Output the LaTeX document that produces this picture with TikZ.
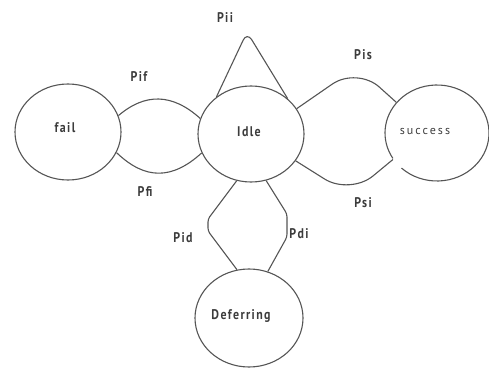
\documentclass[tikz,border=0pt]{standalone}
\usepackage{fontspec}
\setmainfont{PT Sans}
\newfontfamily\statefont{PT Sans}[FakeStretch=0.85,LetterSpace=10]
\newfontfamily\spacedfont{PT Sans}[LetterSpace=17]
\usetikzlibrary{shapes.geometric}
\definecolor{edgegray}{HTML}{555555}
\definecolor{textgray}{HTML}{3C3C3C}
\tikzset{
  state/.style={ellipse, inner sep=0pt, minimum width=106pt, minimum height=96pt,
    draw=edgegray, line width=1.1pt},
  statelabel/.style={text=textgray, font=\statefont\bfseries\fontsize{14}{14}\selectfont},
  prob/.style={statelabel},
  link/.style={draw=edgegray, line width=1.1pt},
}
\begin{document}
\begin{tikzpicture}[x=1pt,y=1pt]
  \useasboundingbox (0,0) rectangle (489,367);

  % states
  \node[state] (fail) at (68,235) {};
  \node[state] (idle) at (251,233) {};
  \node[state, draw=none, minimum width=104pt] (success) at (437,234) {};
  \node[state, minimum width=108pt, minimum height=98pt] (defer) at (249,49) {};

  % success outline with its small break on the lower left
  \draw[link] ([shift={(success.center)}] 227:52 and 48)
    arc[start angle=227, end angle=572, x radius=52, y radius=48];

  % state names
  \node[statelabel] at (65,239) {fail};
  \node[statelabel] at (249,235) {Idle};
  \node[text=textgray, font=\spacedfont\fontsize{12}{12}\selectfont] at (425,235) {success};
  \node[statelabel] at (241,51) {Deferring};

  % transitions
  \draw[link] (fail.18) .. controls (145,274) and (172,274) .. (idle.163);
  \draw[link] (fail.-23) .. controls (145,187) and (172,187) .. (idle.201);
  \draw[link, rounded corners=9pt] (idle.133) -- (247,335) -- (idle.44);
  \draw[link, rounded corners=30pt] (idle.29) -- (357,300) -- (success.143);
  \draw[link, rounded corners=30pt] (idle.-31) -- (350,172) -- (success.211);
  \draw[link, rounded corners=3pt] (idle.253) -- (208,148) -- (208,136) -- (defer.104);
  \draw[link, rounded corners=3pt] (idle.288) -- (287,153) -- (287,130) -- (defer.68);

  % transition probabilities
  \node[prob] at (225,349) {Pii};
  \node[prob] at (139,290) {Pif};
  \node[prob] at (145,175) {Pfi};
  \node[prob] at (363,312) {Pis};
  \node[prob] at (363,164) {Psi};
  \node[prob] at (183,129) {Pid};
  \node[prob] at (299,133) {Pdi};
\end{tikzpicture}
\end{document}
